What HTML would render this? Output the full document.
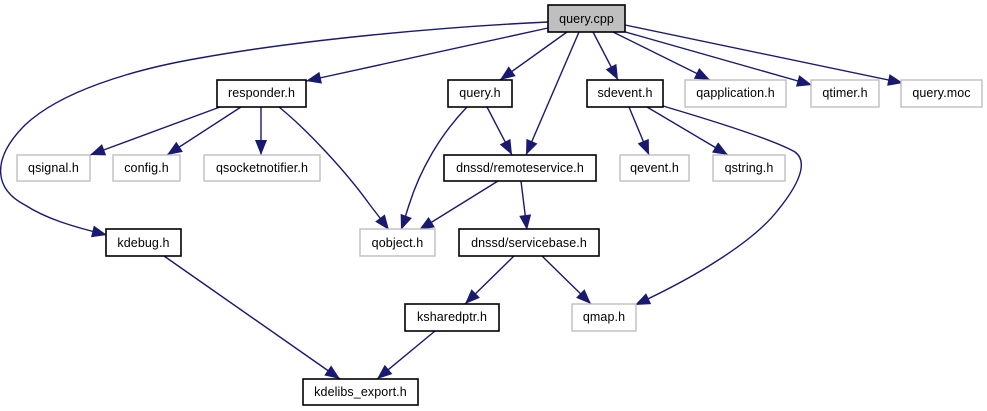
<!DOCTYPE html>
<html>
<head>
<meta charset="utf-8">
<style>
html,body{margin:0;padding:0;background:#fff;width:987px;height:411px;overflow:hidden}
svg{display:block}
text{font-family:"Liberation Sans",sans-serif;font-size:12.5px;letter-spacing:.1px;fill:#000;text-anchor:middle}
.e{fill:none;stroke:#191970;stroke-width:1.4}
.b{fill:#fff;stroke:#000;stroke-width:1.6}
.g{fill:#fff;stroke:#bfbfbf;stroke-width:1.4}
</style>
</head>
<body>
<svg width="987" height="411" viewBox="0 0 987 411" xmlns="http://www.w3.org/2000/svg">
<defs>
<marker id="a" markerUnits="userSpaceOnUse" markerWidth="18" markerHeight="14" refX="15" refY="7" orient="auto" overflow="visible">
<path d="M0,1 L15,7 L0,13 Z" fill="#191970"/>
</marker>
</defs>
<g class="edges">
<path class="e" marker-end="url(#a)" d="M548,28 L306,81"/>
<path class="e" marker-end="url(#a)" d="M548,22 C440,27 300,40 200,58 C130,70 60,92 25,125 C-10,160 -5,190 25,205 C45,218 70,226 107,235"/>
<path class="e" marker-end="url(#a)" d="M567,32 L500,80"/>
<path class="e" marker-end="url(#a)" d="M579,32 L526,155"/>
<path class="e" marker-end="url(#a)" d="M593,32 L618,80"/>
<path class="e" marker-end="url(#a)" d="M613,32 L710,80"/>
<path class="e" marker-end="url(#a)" d="M622,31 L812,85"/>
<path class="e" marker-end="url(#a)" d="M625,25 L903,83"/>
<path class="e" marker-end="url(#a)" d="M220,107 L90,155"/>
<path class="e" marker-end="url(#a)" d="M241,107 L167,155"/>
<path class="e" marker-end="url(#a)" d="M261,107 L261,155"/>
<path class="e" marker-end="url(#a)" d="M279,107 C305,128 345,170 370,205 C377,214 383,222 389,230"/>
<path class="e" marker-end="url(#a)" d="M467,107 C440,135 420,170 409,205 C406,214 404,222 401,230"/>
<path class="e" marker-end="url(#a)" d="M487,107 L512,155"/>
<path class="e" marker-end="url(#a)" d="M498,181 L419,230"/>
<path class="e" marker-end="url(#a)" d="M521,181 L527,230"/>
<path class="e" marker-end="url(#a)" d="M629,107 L649,155"/>
<path class="e" marker-end="url(#a)" d="M647,107 L728,155"/>
<path class="e" marker-end="url(#a)" d="M663,106 C700,117 770,138 795,152 C806,160 804,178 778,210 C755,240 700,275 635,305"/>
<path class="e" marker-end="url(#a)" d="M514,256 L465,304"/>
<path class="e" marker-end="url(#a)" d="M542,256 L591,304"/>
<path class="e" marker-end="url(#a)" d="M164,256 L340,379"/>
<path class="e" marker-end="url(#a)" d="M435,331 L377,379"/>
</g>
<g class="nodes">
<rect x="548" y="5" width="77" height="27" fill="#bfbfbf" stroke="#000" stroke-width="1.6"/>
<text x="586.5" y="23">query.cpp</text>

<rect class="b" x="217" y="80" width="89" height="27"/>
<text x="261.5" y="97">responder.h</text>
<rect class="b" x="448" y="80" width="64" height="27"/>
<text x="480" y="97">query.h</text>
<rect class="b" x="587" y="80" width="76" height="27"/>
<text x="625" y="97">sdevent.h</text>
<rect class="g" x="685" y="80" width="101" height="27"/>
<text x="735.5" y="97">qapplication.h</text>
<rect class="g" x="811" y="80" width="68" height="27"/>
<text x="845" y="97">qtimer.h</text>
<rect class="g" x="901" y="80" width="81" height="27"/>
<text x="941.5" y="97">query.moc</text>

<rect class="g" x="17" y="155" width="73" height="26"/>
<text x="53.5" y="172">qsignal.h</text>
<rect class="g" x="113" y="155" width="67" height="26"/>
<text x="146.5" y="172">config.h</text>
<rect class="g" x="204" y="155" width="116" height="26"/>
<text x="262" y="172">qsocketnotifier.h</text>
<rect class="b" x="444" y="155" width="152" height="26"/>
<text x="520" y="172">dnssd/remoteservice.h</text>
<rect class="g" x="620" y="155" width="69" height="26"/>
<text x="654.5" y="172">qevent.h</text>
<rect class="g" x="713" y="155" width="72" height="26"/>
<text x="749" y="172">qstring.h</text>

<rect class="b" x="106" y="229" width="75" height="27"/>
<text x="143.5" y="247">kdebug.h</text>
<rect class="g" x="360" y="229" width="75" height="27"/>
<text x="397.5" y="247">qobject.h</text>
<rect class="b" x="459" y="229" width="140" height="27"/>
<text x="529" y="247">dnssd/servicebase.h</text>

<rect class="b" x="405" y="304" width="94" height="27"/>
<text x="452" y="321">ksharedptr.h</text>
<rect class="g" x="572" y="304" width="64" height="27"/>
<text x="604" y="321">qmap.h</text>

<rect class="b" x="303" y="379" width="115" height="26"/>
<text x="360.5" y="396">kdelibs_export.h</text>
</g>
</svg>
</body>
</html>
